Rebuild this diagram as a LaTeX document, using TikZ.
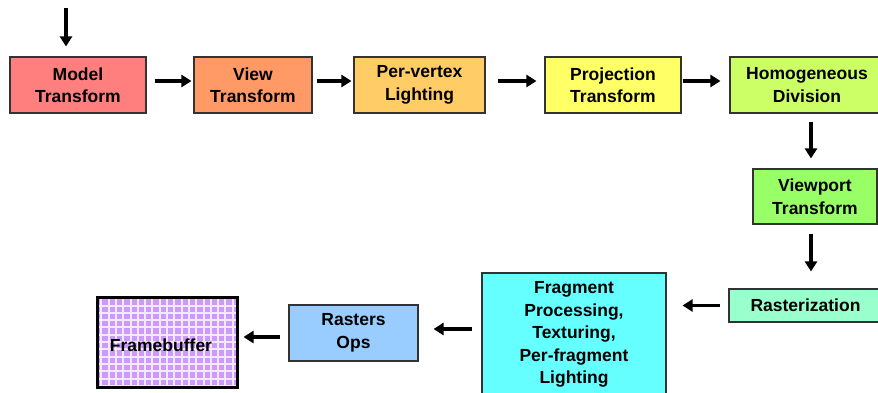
\documentclass[tikz,border=0pt]{standalone}
\usepackage{fontspec}
\setmainfont{Liberation Sans}
\usetikzlibrary{arrows.meta}

\definecolor{cModel}{HTML}{FF7F7F}
\definecolor{cView}{HTML}{FF9966}
\definecolor{cVertex}{HTML}{FFCC66}
\definecolor{cProj}{HTML}{FFFF66}
\definecolor{cHomog}{HTML}{CCFF66}
\definecolor{cViewport}{HTML}{99FF66}
\definecolor{cRaster}{HTML}{99FFCC}
\definecolor{cFrag}{HTML}{66FFFF}
\definecolor{cOps}{HTML}{99CCFF}
\definecolor{cFrame}{HTML}{CC99FF}
\definecolor{cGrid}{HTML}{F4EAFF}
\definecolor{cEdge}{HTML}{333333}

\tikzset{
  stage/.style={draw=cEdge, line width=1.1pt, inner sep=0pt, align=center,
    font=\fontsize{17.5}{22.5}\selectfont\bfseries, text=black},
  arr/.style={line width=3.4pt, -{Triangle[length=10pt,width=12pt]}},
}

\begin{document}
\begin{tikzpicture}[x=1pt, y=-1pt]
\useasboundingbox (0,0) rectangle (878,392);

% top row
\node[stage, fill=cModel,  minimum width=136pt, minimum height=56pt] (model) at (78,85)    {Model\\Transform};
\node[stage, fill=cView,   minimum width=118pt, minimum height=56pt] (view)  at (253,85)   {View\\Transform};
\node[stage, fill=cVertex, minimum width=131pt, minimum height=56pt] (vert)  at (419.5,85) {Per-vertex\\Lighting};
\node[stage, fill=cProj,   minimum width=136pt, minimum height=56pt] (proj)  at (613,85)   {Projection\\Transform};
\node[stage, fill=cHomog,  minimum width=154pt, minimum height=56pt] (homog) at (807,85)   {Homogeneous\\Division};

% right column
\node[stage, fill=cViewport, minimum width=124pt, minimum height=55pt] (vport) at (815,196.5) {Viewport\\Transform};
\node[stage, fill=cRaster,   minimum width=153pt, minimum height=33pt] (rast)  at (805.5,305.5) {Rasterization};

% bottom row
\node[stage, fill=cFrag, minimum width=184pt, minimum height=123pt] (frag) at (574,334.5)
  {Fragment\\Processing,\\Texturing,\\Per-fragment\\Lighting};
\node[stage, fill=cOps, minimum width=129pt, minimum height=56pt] (ops) at (353.5,333) {Rasters\\Ops};
\node[stage, draw=black, line width=3pt, fill=cFrame, minimum width=140pt, minimum height=90pt,
  path picture={\draw[cGrid, line width=2pt]
    (path picture bounding box.south west) grid[step=7.3pt] (path picture bounding box.north east);}]
  (frame) at (167,342) {};
\node[stage, draw=none] (framelabel) at ([xshift=-6pt,yshift=-3pt]frame.center) {Framebuffer};

% connectors
\coordinate (input) at (66,8);
\draw[arr, shorten >=10pt] (input) -- (input |- model.north);
\draw[arr, shorten <=8pt,  shorten >=2pt] ([yshift=4pt]model.east) -- ([yshift=4pt]view.west);
\draw[arr, shorten <=4pt,  shorten >=2pt] ([yshift=4pt]view.east)  -- ([yshift=4pt]vert.west);
\draw[arr, shorten <=12pt, shorten >=8pt] ([yshift=4pt]vert.east)  -- ([yshift=4pt]proj.west);
\draw[arr, shorten <=1pt,  shorten >=9pt] ([yshift=4pt]proj.east)  -- ([yshift=4pt]homog.west);
\draw[arr, shorten <=8pt,  shorten >=10pt] ([xshift=4pt]homog.south) -- ([xshift=-4pt]vport.north);
\draw[arr, shorten <=9pt,  shorten >=17pt] ([xshift=-4pt]vport.south) -- ([xshift=5.5pt]rast.north);
\draw[arr, shorten <=8pt,  shorten >=16pt] (rast.west) -- (rast.west -| frag.east);
\draw[arr, shorten <=9pt,  shorten >=15pt] ([yshift=4pt]ops.east -| frag.west) -- ([yshift=4pt]ops.east);
\draw[arr, shorten <=8pt,  shorten >=5pt] ([yshift=-4pt]ops.west) -- ([yshift=-4pt]ops.west -| frame.east);
\end{tikzpicture}
\end{document}
